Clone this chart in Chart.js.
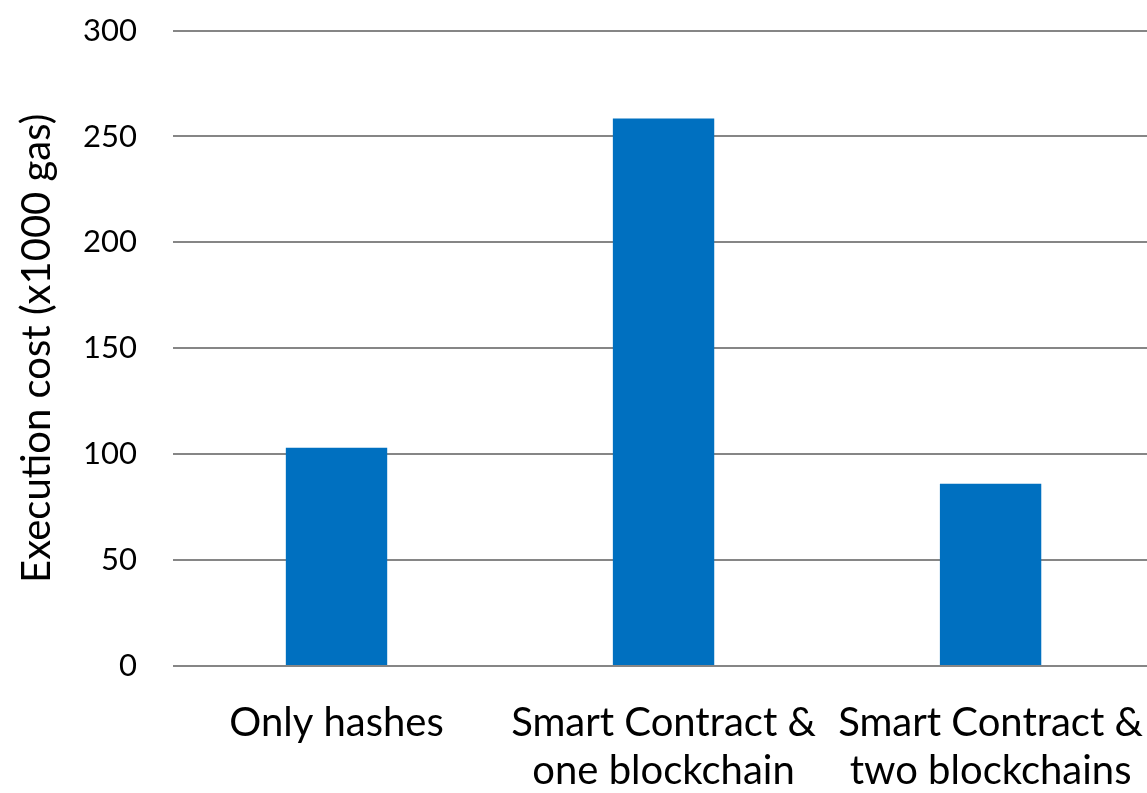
<!DOCTYPE html>
<html>
<head>
<meta charset="utf-8">
<script src="https://cdn.jsdelivr.net/npm/chart.js@4/dist/chart.umd.min.js"></script>
<style>
html,body{margin:0;padding:0;background:#fff;overflow:hidden;width:1147px;height:793px;}
#wrap{position:absolute;left:0;top:-24px;width:1176px;height:817px;}
</style>
</head>
<body>
<div id="wrap"><canvas id="c"></canvas></div>
<script>
const categories = [["Only hashes"], ["Smart Contract &", "one blockchain"], ["Smart Contract &", "two blockchains"]];
const values = [103, 258.5, 86];
const yTicks = [0, 50, 100, 150, 200, 250, 300];
const yTitle = "Execution cost (x1000 gas)";

const FONT = "Lato";
new Chart(document.getElementById('c'), {
  type: 'bar',
  data: {
    labels: categories,
    datasets: [{
      data: values,
      backgroundColor: '#0070C0',
      borderWidth: 0,
      categoryPercentage: 1,
      barPercentage: 0.31
    }]
  },
  options: {
    responsive: true,
    maintainAspectRatio: false,
    animation: false,
    layout: { padding: 0 },
    plugins: { legend: { display: false }, tooltip: { enabled: false } },
    scales: {
      x: {
        grid: { display: false, drawTicks: false },
        border: { display: false },
        ticks: {
          color: '#000',
          font: { family: FONT, size: 40, lineHeight: 1.2 },
          padding: 33,
          maxRotation: 0,
          autoSkip: false
        },
        afterFit: s => { s.height = 127; }
      },
      y: {
        min: 0, max: 300,
        afterBuildTicks: s => { s.ticks = yTicks.map(v => ({ value: v })); },
        grid: { color: '#868686', lineWidth: 2, drawTicks: false },
        border: { display: false },
        ticks: {
          color: '#000',
          font: { family: FONT, size: 31 },
          padding: 36
        },
        title: {
          display: true,
          text: yTitle,
          color: '#000',
          font: { family: FONT, size: 40 },
          padding: { top: 13, bottom: 0 }
        },
        afterFit: s => { s.width = 173; }
      }
    }
  }
});
</script>
</body>
</html>
